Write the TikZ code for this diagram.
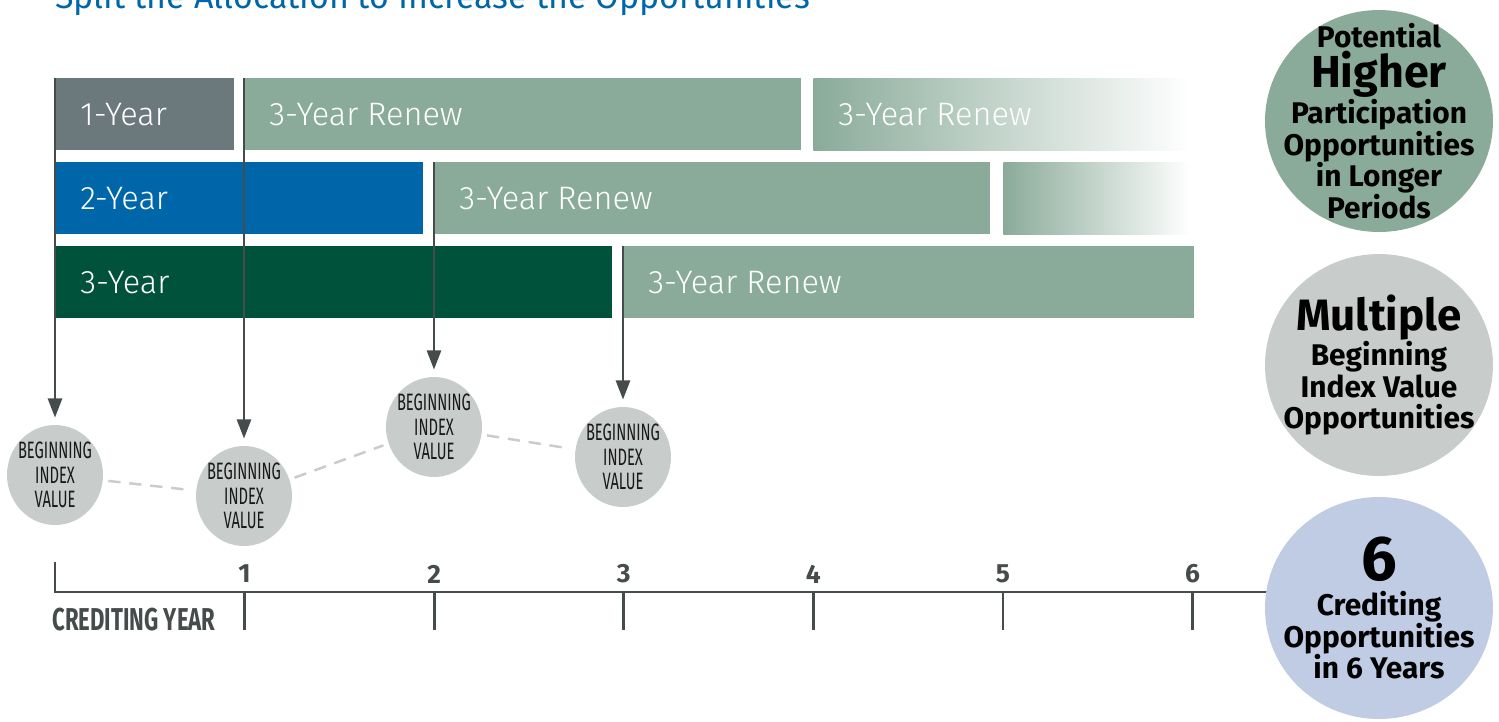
\documentclass[tikz,border=0pt]{standalone}
\usepackage{fontspec}
\setmainfont{Fira Sans}
\newfontfamily\lightfont{Fira Sans Light}
\newfontfamily\heavyfont{Fira Sans Black}
\newfontfamily\condfont{Fira Sans}[FakeStretch=0.62]
\newfontfamily\narrowfont{Fira Sans}[FakeStretch=0.7]
\usepackage{xcolor}
\usepackage{tikz}
\usetikzlibrary{arrows.meta}
\usetikzlibrary{positioning}
\usetikzlibrary{shapes.geometric}
\definecolor{yr-gray1}{RGB}{107, 120, 124}
\definecolor{yr-gray2}{RGB}{200, 204, 203}
\definecolor{yr-gray3}{RGB}{70, 75, 75}
\definecolor{yr-blue1}{RGB}{0, 102, 170}
\definecolor{yr-blue2}{RGB}{191, 204, 228}
\definecolor{yr-green1}{RGB}{0, 83, 58}
\definecolor{yr-green2}{RGB}{138, 171, 154}

\begin{document}
\begin{tikzpicture}[x=0.02cm, y=-0.02cm,
    bar/.style={rectangle, anchor=north west, minimum width=#1*0.02cm, minimum height=1.44cm, inner sep=0pt},
    bartext/.style={text=white, font=\lightfont\fontsize{18.5}{20}\selectfont, inner sep=0pt},
    biv/.style={ellipse, fill=yr-gray2, minimum width=1.92cm, minimum height=2cm, inner sep=0pt},
    bivtext/.style={align=center, text=black!90, font=\condfont\fontsize{13.5}{13.8}\selectfont},
    link/.style={yr-gray2, line width=1.4pt, dash pattern=on 7pt off 5pt, shorten <=3pt, shorten >=3pt},
    drop/.style={yr-gray3, line width=1.6pt, -{Triangle[width=8pt, length=11pt]}, shorten >=4pt},
    axis/.style={yr-gray3, line width=1.6pt},
    yearnum/.style={text=yr-gray3, font=\bfseries\fontsize{15}{15}\selectfont},
    big/.style={ellipse, minimum width=4.56cm, minimum height=4.44cm, inner sep=0pt},
    bigtext/.style={align=center, font=\bfseries\fontsize{17}{18}\selectfont}]
  \useasboundingbox (0,0) rectangle (1499,721);

  \node[anchor=base west, text=yr-blue1, font=\fontsize{19.3}{19.3}\selectfont, inner sep=0pt] (title) at (55,8) {Split the Allocation to Increase the Opportunities};

  % allocation bars
  \node[bar=179, fill=yr-gray1] (y1) at (55,78) {};
  \node[bar=557, fill=yr-green2] (r1a) at (244,78) {};
  \node[bar=377, left color=yr-green2, right color=white] (r1b) at (813,78) {};
  \node[bar=368, fill=yr-blue1] (y2) at (55,162) {};
  \node[bar=556, fill=yr-green2] (r2a) at (434,162) {};
  \node[bar=187, left color=yr-green2, right color=white] (r2b) at (1003,162) {};
  \node[bar=557, fill=yr-green1] (y3) at (55,246) {};
  \node[bar=571, fill=yr-green2] (r3a) at (623,246) {};

  \node[bartext, right=0.5cm of y1.west] {1-Year};
  \node[bartext, right=0.5cm of r1a.west] {3-Year Renew};
  \node[bartext, right=0.5cm of r1b.west] {3-Year Renew};
  \node[bartext, right=0.5cm of y2.west] {2-Year};
  \node[bartext, right=0.5cm of r2a.west] {3-Year Renew};
  \node[bartext, right=0.5cm of y3.west] {3-Year};
  \node[bartext, right=0.5cm of r3a.west] {3-Year Renew};

  % beginning index values
  \node[biv] (b0) at (55,475) {};
  \node[biv] (b1) at (244,496) {};
  \node[biv] (b2) at (434,427) {};
  \node[biv] (b3) at (623,457) {};
  \foreach \n in {b0,b1,b2,b3}
    \node[bivtext] at (\n) {BEGINNING\\INDEX\\VALUE};

  \draw[link] (b0) -- (b1);
  \draw[link] (b1) -- (b2);
  \draw[link] (b2) -- (b3);

  \draw[drop] (y1.north west) -- (b0.north);
  \draw[drop] (r1a.north west) -- (b1.north);
  \draw[drop] (r2a.north west) -- (b2.north);
  \draw[drop] (r3a.north west) -- (b3.north);

  % crediting years
  \draw[axis] (55,562) -- (55,592) -- (1300,592);
  \foreach \i in {1,...,6} {
    \draw[axis] (55+189.6*\i,592) -- ++(0,38);
    \node[yearnum] (n\i) at (55+189.6*\i,574) {\i};
  }
  \node[anchor=west, text=yr-gray3, inner sep=0pt, font=\narrowfont\bfseries\fontsize{18}{18}\selectfont] (credit) at (52,620) {CREDITING YEAR};

  % summary circles
  \node[big, fill=yr-green2] (c1) at (1379,121) {};
  \node[big, fill=yr-gray2] (c2) at (1379,365) {};
  \node[big, fill=yr-blue2] (c3) at (1379,608) {};
  \node[bigtext] at (c1) {Potential\\[1pt]{\heavyfont\fontsize{25.5}{26}\selectfont Higher}\\Participation\\Opportunities\\in Longer\\Periods};
  \node[bigtext] at (c2) {{\heavyfont\fontsize{25}{26}\selectfont Multiple}\\Beginning\\Index Value\\Opportunities};
  \node[bigtext] at (c3) {{\heavyfont\fontsize{36}{36}\selectfont 6}\\[2pt]Crediting\\Opportunities\\in 6 Years};
\end{tikzpicture}
\end{document}
